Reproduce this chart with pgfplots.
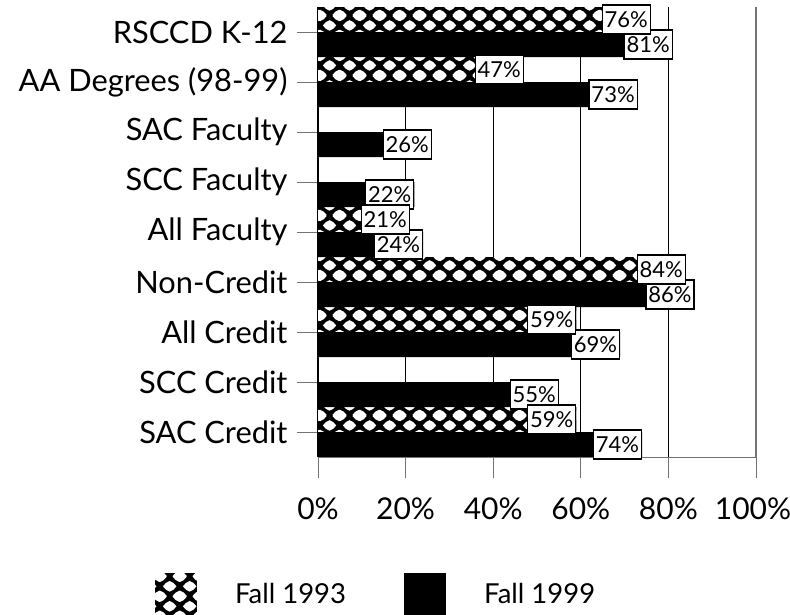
\documentclass[border=0pt]{standalone}
\usepackage{pgfplots}
\pgfplotsset{compat=1.18}
\usetikzlibrary{patterns}
\usepackage{fontspec}
\setmainfont{Lato}

% rounded white diamond centred at (#1,#2), half-width 7bp, half-height 5.5bp
\newcommand\holediamond[2]{%
  \pgfpathmoveto{\pgfpoint{#1bp-7bp}{#2bp}}%
  \pgfpathcurveto{\pgfpoint{#1bp-4.9bp}{#2bp+2.75bp}}{\pgfpoint{#1bp-3.1bp}{#2bp+4.7bp}}{\pgfpoint{#1bp}{#2bp+5.5bp}}%
  \pgfpathcurveto{\pgfpoint{#1bp+3.1bp}{#2bp+4.7bp}}{\pgfpoint{#1bp+4.9bp}{#2bp+2.75bp}}{\pgfpoint{#1bp+7bp}{#2bp}}%
  \pgfpathcurveto{\pgfpoint{#1bp+4.9bp}{#2bp-2.75bp}}{\pgfpoint{#1bp+3.1bp}{#2bp-4.7bp}}{\pgfpoint{#1bp}{#2bp-5.5bp}}%
  \pgfpathcurveto{\pgfpoint{#1bp-3.1bp}{#2bp-4.7bp}}{\pgfpoint{#1bp-4.9bp}{#2bp-2.75bp}}{\pgfpoint{#1bp-7bp}{#2bp}}%
  \pgfpathclose}

\pgfdeclarepatternformonly{diamondholes}{\pgfpoint{0bp}{0bp}}{\pgfpoint{20bp}{20bp}}{\pgfpoint{20bp}{20bp}}{%
  \holediamond{10}{10}%
  \holediamond{0}{0}\holediamond{20}{0}\holediamond{0}{20}\holediamond{20}{20}%
  \pgfusepath{fill}}

\pgfplotsset{
  boxlegend/.style={legend image code/.code={\path[##1] (0bp,-21bp) rectangle (42bp,21bp);}},
  barlabel/.style={point meta=x,
    nodes near coords={\rule[-6.5bp]{0pt}{28bp}\pgfmathprintnumber[assume math mode=true]{\pgfplotspointmeta}\%},
    nodes near coords style={/tikz/anchor=east, /tikz/draw=black, /tikz/fill=white, /tikz/text=black,
      /tikz/line width=1.2bp, /tikz/inner ysep=0.5bp, /tikz/inner xsep=2.5bp,
      /tikz/yshift=#1, /tikz/font=\fontsize{22bp}{24bp}\selectfont}},
}

\begin{document}
\begin{tikzpicture}
\path[use as bounding box] (0,0) rectangle (790bp,615bp);
\begin{axis}[
  at={(318bp,158bp)}, anchor=south west,
  scale only axis, width=438bp, height=450bp,
  xmin=0, xmax=100, ymin=-0.5, ymax=8.5,
  axis x line*=bottom, axis y line*=left,
  ytick={0,...,8},
  yticklabels={SAC Credit,SCC Credit,All Credit,Non-Credit,All Faculty,SCC Faculty,SAC Faculty,AA Degrees (98-99),RSCCD K-12},
  xtick={0,20,40,60,80},
  xticklabels={0\%,20\%,40\%,60\%,80\%},
  extra x ticks={100}, extra x tick labels={100\%},
  extra x tick style={grid style={black!55, line width=1.5bp}, xticklabel style={xshift=-3bp}},
  xmajorgrids, grid style={black, line width=0.8bp},
  tick align=outside, major tick length=21bp,
  tick style={black!55, line width=1bp},
  x axis line style={black!55, line width=1bp},
  y axis line style={black, line width=1.3bp},
  yticklabel style={xshift=-6bp, font=\fontsize{30.8bp}{36bp}\selectfont},
  xticklabel style={yshift=-16bp, font=\fontsize{30bp}{36bp}\selectfont},
  legend columns=2,
  legend style={at={(-0.372,-0.304)}, anchor=west, draw=none, fill=none,
    inner sep=0pt, outer sep=0pt, font=\fontsize{27.5bp}{33bp}\selectfont,
    nodes={inner sep=0pt},
    /tikz/every odd column/.append style={column sep=38bp},
    /tikz/every even column/.append style={column sep=58bp}},
]
\addplot[xbar, bar width=25bp, bar shift=12.5bp, draw=none, fill=black,
  postaction={pattern=diamondholes, pattern color=white}, boxlegend]
  coordinates {(59,0) (59,2) (84,3) (21,4) (47,7) (76,8)};
\addlegendentry{Fall 1993}
\addplot[xbar, bar width=25bp, bar shift=-12.5bp, draw=none, fill=black, boxlegend]
  coordinates {(74,0) (55,1) (69,2) (86,3) (24,4) (22,5) (26,6) (73,7) (81,8)};
\addlegendentry{Fall 1999}
% data labels (drawn after all bars)
\addplot[xbar, bar width=25bp, bar shift=-12.5bp, draw=none, fill=none, forget plot, barlabel=-12.5bp]
  coordinates {(74,0) (55,1) (69,2) (86,3) (24,4) (22,5) (26,6) (73,7) (81,8)};
\addplot[xbar, bar width=25bp, bar shift=12.5bp, draw=none, fill=none, forget plot, barlabel=12.5bp]
  coordinates {(59,0) (59,2) (84,3) (21,4) (47,7) (76,8)};
\end{axis}
\end{tikzpicture}
\end{document}
